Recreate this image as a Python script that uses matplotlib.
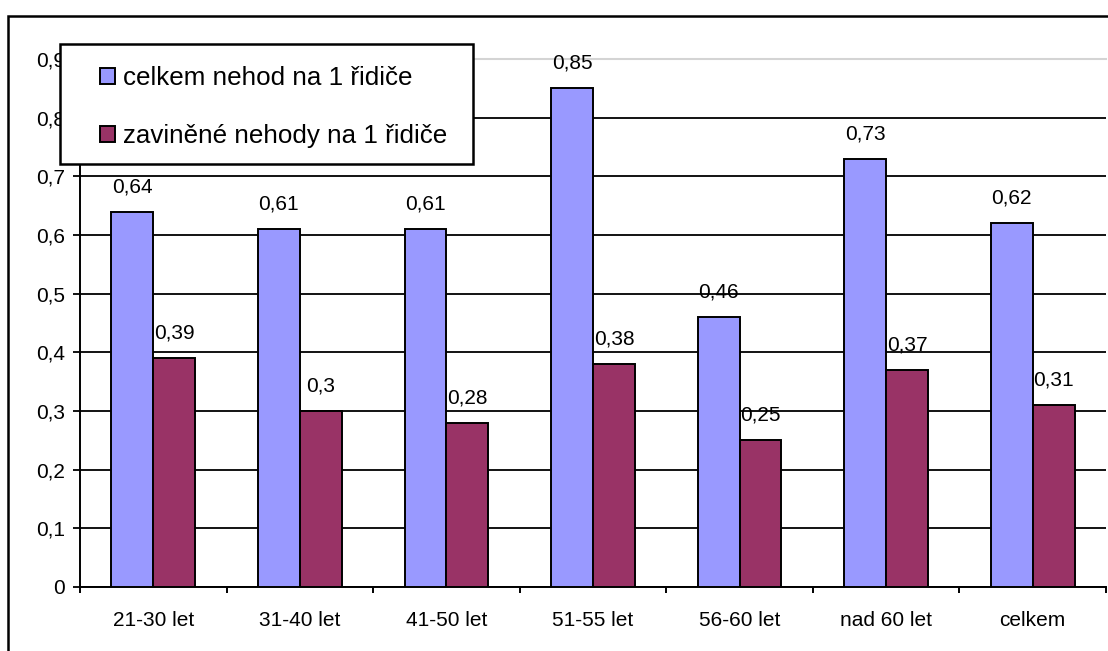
import matplotlib
matplotlib.use("Agg")
import matplotlib.pyplot as plt
from matplotlib.patches import Rectangle, Patch
from matplotlib.ticker import FuncFormatter, FixedLocator
import numpy as np

categories = ["21-30 let", "31-40 let", "41-50 let", "51-55 let", "56-60 let", "nad 60 let", "celkem"]
total_per_driver = [0.64, 0.61, 0.61, 0.85, 0.46, 0.73, 0.62]
caused_per_driver = [0.39, 0.30, 0.28, 0.38, 0.25, 0.37, 0.31]
series_names = ["celkem nehod na 1 řidiče", "zaviněné nehody na 1 řidiče"]
colors = ["#9999FF", "#993366"]

W, H = 1108, 651
plt.rcParams["font.family"] = ["Liberation Sans", "DejaVu Sans"]

fig = plt.figure(figsize=(W / 100, H / 100), dpi=100)
ax = fig.add_axes([80 / W, 1 - 587 / H, (1106 - 80) / W, (587 - 59) / H])


def comma(v):
    s = f"{v:.2f}".rstrip("0").rstrip(".")
    return s.replace(".", ",")


x = np.arange(len(categories))
bw = 0.286
for vals, col, off in [(total_per_driver, colors[0], -bw / 2), (caused_per_driver, colors[1], bw / 2)]:
    bars = ax.bar(x + off, vals, width=bw, color=col, edgecolor="black", linewidth=1.4, zorder=3)
    for b, v in zip(bars, vals):
        ax.annotate(comma(v), (b.get_x() + b.get_width() / 2, v), xytext=(0, 14),
                    textcoords="offset points", ha="center", va="baseline", fontsize=15)

ax.set_xlim(-0.5, len(categories) - 0.5)
ax.set_ylim(0, 0.9)
ax.set_yticks(np.arange(0, 0.91, 0.1))
ax.yaxis.set_major_formatter(FuncFormatter(lambda v, p: comma(v)))
ax.yaxis.grid(True, color="black", linewidth=1.3, zorder=1)
ax.set_axisbelow(True)
ax.get_ygridlines()[-1].set_visible(False)
ax.tick_params(axis="y", direction="out", length=5, width=1.3, pad=6, labelsize=15)

ax.set_xticks(x)
ax.set_xticklabels(categories)
ax.xaxis.set_minor_locator(FixedLocator(np.arange(-0.5, len(categories), 1.0)))
ax.tick_params(axis="x", which="major", length=0, pad=17, labelsize=15)
ax.tick_params(axis="x", which="minor", direction="out", length=4, width=1.4)

ax.spines["right"].set_visible(False)
ax.spines["top"].set_color("#d4d4d4")
ax.spines["top"].set_linewidth(1.5)
ax.spines["left"].set_linewidth(1.4)
ax.spines["bottom"].set_linewidth(1.4)

# outer chart frame
fig.add_artist(Rectangle((8 / W, -0.1), 1.2, 1.1 - 16 / H, transform=fig.transFigure,
                         fill=False, edgecolor="black", linewidth=1.8))

# legend box
box = Rectangle((60 / W, 1 - 164 / H), (473 - 60) / W, (164 - 44) / H, transform=fig.transFigure,
                facecolor="white", edgecolor="black", linewidth=1.8, zorder=4, clip_on=False)
ax.add_artist(box)
handles = [Patch(facecolor=c, edgecolor="black", linewidth=1.4) for c in colors]
leg = ax.legend(handles, series_names, loc="upper left", bbox_to_anchor=(100 / W, 1 - 66 / H),
                bbox_transform=fig.transFigure, frameon=False, borderpad=0, borderaxespad=0,
                fontsize=18.7, handlelength=0.58, handleheight=0.58, handletextpad=0.3,
                labelspacing=1.32)
leg.set_zorder(5)

fig.savefig("out.png", dpi=100)
